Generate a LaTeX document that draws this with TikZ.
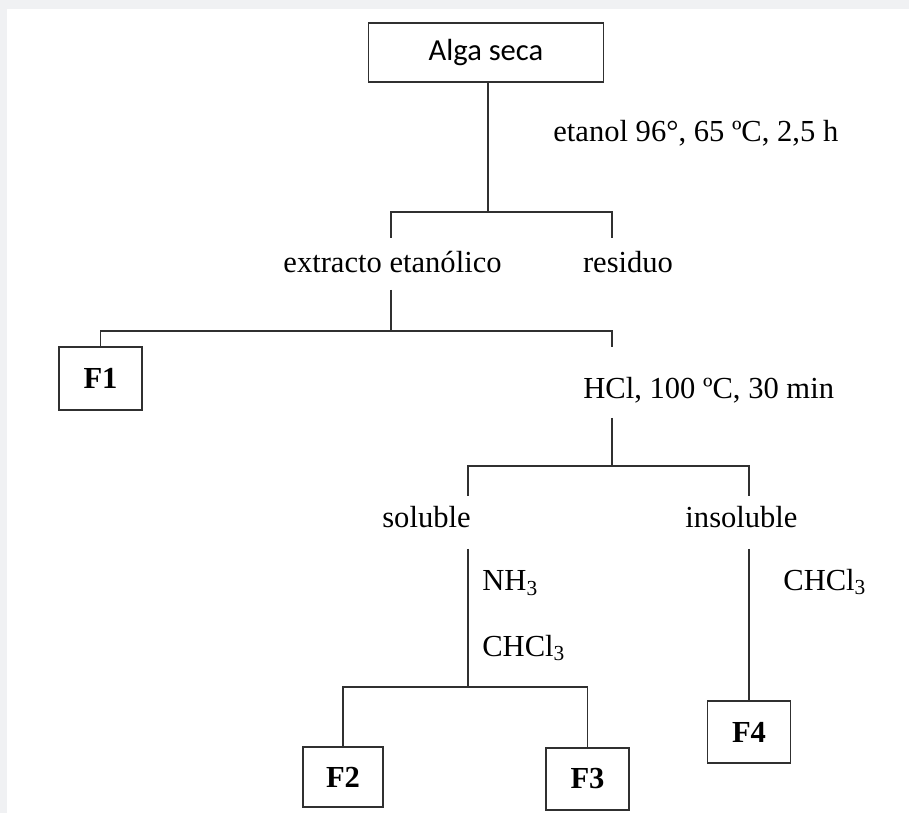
\documentclass[tikz,border=0pt]{standalone}
\usepackage{fontspec}
\setmainfont{Liberation Serif}
\newfontfamily\carlito{Carlito}
\definecolor{fondo}{HTML}{F0F1F3}
\definecolor{trazo}{HTML}{303030}
\tikzset{
  caja/.style={draw=trazo,line width=0.9pt,fill=white,inner sep=0pt,font=\fontsize{17.4}{20}\selectfont\bfseries},
  rot/.style={inner sep=0pt,font=\fontsize{17.4}{20}\selectfont},
  linea/.style={draw=trazo,line width=0.9pt}
}
\begin{document}
\begin{tikzpicture}[x=0.02cm,y=-0.02cm]
        \fill[fondo] (0,0) rectangle (909,813);
        \fill[white] (7,9) rectangle (909,813);

        \node [caja,minimum width=4.7cm,minimum height=1.18cm,font=\carlito\fontsize{17.4}{20}\selectfont](alga)at(486,52.5){Alga seca};
        \node [rot,anchor=west](cond1)at(553,133){etanol 96°, 65 ºC, 2,5 h};
        \node [rot](ext)at(392.5,262){extracto etanólico};
        \node [rot](res)at(628,262){residuo};
        \node [caja,minimum width=1.66cm,minimum height=1.26cm](f1)at(100.5,378.5){F1};
        \node [rot,anchor=west](cond2)at(583,390){HCl, 100 ºC, 30 min};
        \node [rot](sol)at(426.5,517){soluble};
        \node [rot](ins)at(741.5,517){insoluble};
        \node [rot,anchor=west](nh)at(482,583){NH\textsubscript{3}};
        \node [rot,anchor=west](clo1)at(482,648){CHCl\textsubscript{3}};
        \node [rot,anchor=west](clo2)at(783,582){CHCl\textsubscript{3}};
        \node [caja,minimum width=1.6cm,minimum height=1.2cm](f2)at(343,777){F2};
        \node [caja,minimum width=1.66cm,minimum height=1.24cm](f3)at(587.5,779){F3};
        \node [caja,minimum width=1.66cm,minimum height=1.24cm](f4)at(749,732){F4};

        % puntos de union
        \coordinate (b1) at (488,212);
        \coordinate (e1) at (391,238);
        \coordinate (r1) at (612,238);
        \coordinate (e2) at (391,290);
        \coordinate (b2) at (391,331);
        \coordinate (h1) at (612,347);
        \coordinate (h2) at (612,418);
        \coordinate (b3) at (612,466);
        \coordinate (s1) at (468,496);
        \coordinate (i1) at (749,496);
        \coordinate (s2) at (468,549);
        \coordinate (b4) at (468,687);
        \coordinate (i2) at (749,549);

        \draw [linea] (alga.south -| b1) -- (b1);
        \draw [linea] (e1) |- (b1) -| (r1);
        \draw [linea] (e2) -- (b2);
        \draw [linea] (f1) |- (b2) -| (h1);
        \draw [linea] (h2) -- (b3);
        \draw [linea] (s1) |- (b3) -| (i1);
        \draw [linea] (s2) -- (b4);
        \draw [linea] (f2) |- (b4) -| (f3);
        \draw [linea] (i2) -- (f4);
    \end{tikzpicture}
\end{document}
